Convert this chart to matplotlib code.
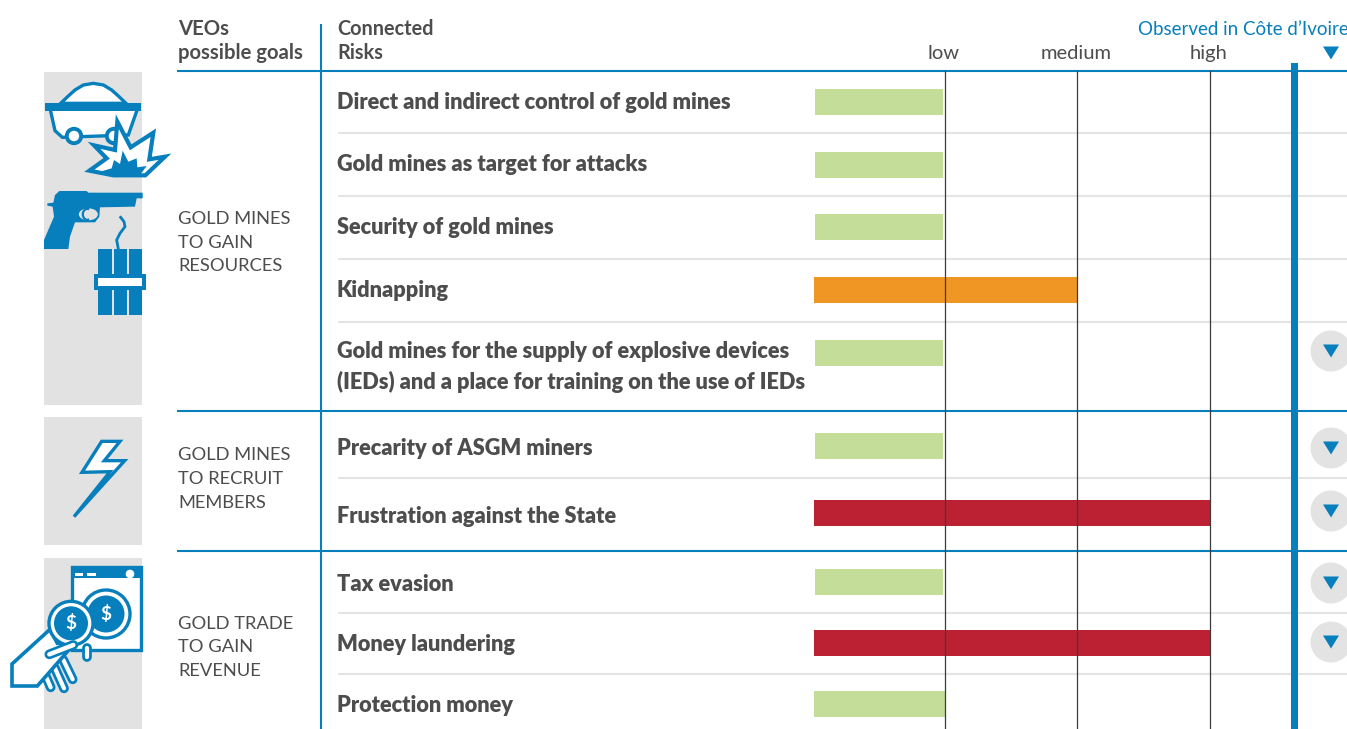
import matplotlib
matplotlib.use("Agg")
import matplotlib.pyplot as plt
from matplotlib.patches import Polygon, Circle, Rectangle, Ellipse, Arc
import numpy as np

risks = ["Direct and indirect control of gold mines", "Gold mines as target for attacks",
         "Security of gold mines", "Kidnapping",
         "Gold mines for the supply of explosive devices\n(IEDs) and a place for training on the use of IEDs",
         "Precarity of ASGM miners", "Frustration against the State", "Tax evasion",
         "Money laundering", "Protection money"]
levels = [1, 1, 1, 2, 1, 1, 3, 1, 3, 1]
observed = [0, 0, 0, 0, 1, 1, 1, 1, 1, 0]
goals = ["GOLD MINES\nTO GAIN\nRESOURCES", "GOLD MINES\nTO RECRUIT\nMEMBERS", "GOLD TRADE\nTO GAIN\nREVENUE"]
tick_labels = ["low", "medium", "high"]

BLUE = "#077fbc"; TXT = "#4d4d4d"; PANEL = "#e2e2e2"; SEP = "#e4e4e4"
LEVEL_COL = {1: "#c4de9a", 2: "#ef9625", 3: "#bb2033"}
FONT = "Lato"
W, H = 1347, 729
row_y = [102, 165, 227, 290, 353, 446, 513, 582, 643, 704]
label_y = [102, 164, 227, 290, 367, 448, 516.5, 584.5, 644.5, 705]
circle_y = {4: 351, 5: 448, 6: 511, 7: 583, 8: 642}
seps = [133, 196, 259, 322, 478, 613, 674]

fig = plt.figure(figsize=(W/100, H/100), dpi=100, facecolor="white")
bg = fig.add_axes([0, 0, 1, 1]); bg.set_xlim(0, W); bg.set_ylim(H, 0); bg.axis("off")

def T(x, y, s, size=15.2, weight="normal", color=TXT, ha="left", va="center", ls=1.2, ax=bg):
    ax.text(x, y, s, fontsize=size, fontweight=weight, color=color, ha=ha, va=va,
            family=FONT, linespacing=ls, zorder=8)

# panels
for y0, y1 in [(72, 405), (417, 545), (558, 729)]:
    bg.add_patch(Rectangle((44, y0), 98, y1-y0, fc=PANEL, ec="none", zorder=1))

# rules
for y in [71, 411, 551]:
    bg.plot([177, W], [y, y], color=BLUE, lw=1.5, zorder=3, solid_capstyle="butt")
for y in seps:
    bg.plot([338, W], [y, y], color=SEP, lw=1.5, zorder=2, solid_capstyle="butt")
bg.plot([321, 321], [24, H], color=BLUE, lw=1.5, zorder=3, solid_capstyle="butt")
bg.add_patch(Rectangle((1290.5, 63), 7, H-63, fc=BLUE, ec="none", zorder=6))

# data axes: bars on a level scale, vertical positions follow the rows
ax = fig.add_axes([814/W, 0, (1210.5-814)/W, 1]); ax.patch.set_alpha(0)
ax.set_xlim(0, 3); ax.set_ylim(H, 0); ax.axis("off")
for i, (y, lv) in enumerate(zip(row_y, levels)):
    if lv == 1 and i < 9:
        ax.barh(y, lv-0.03, left=0.005, height=26, color=LEVEL_COL[lv], zorder=3)
    elif i == 9:
        ax.barh(y, lv-0.005, height=26, color=LEVEL_COL[lv], zorder=3)
    else:
        ax.barh(y, lv, height=26, color=LEVEL_COL[lv], zorder=3)
for i, lab in enumerate(tick_labels):
    ax.plot([i+0.993]*2, [71, H], color="#3c3c3c", lw=0.9, zorder=4, clip_on=False)
for x, lab in zip([943.5, 1076, 1209], tick_labels):
    T(x, 53, lab, ha="center", size=14.5)

# text
T(178, 41, "VEOs\npossible goals", weight="bold", size=14.6)
T(337, 41, "Connected\nRisks", weight="bold", size=14.3)
T(1138, 29, "Observed in Côte d’Ivoire", color=BLUE, size=13.5)
for y, s in zip([242.5, 479, 647.5], goals):
    T(178, y, s, size=13.2, ls=1.6)
for y, s in zip(label_y, risks):
    T(337, y, s, weight="heavy", size=15.7, ls=1.47 if "\n" in s else 1.2)

def tri(x, y, s=8, h=13):
    bg.add_patch(Polygon([(x-s, y-h/2), (x+s, y-h/2), (x, y+h/2)], fc=BLUE, ec="none", zorder=7))
tri(1331, 53)
for i, o in enumerate(observed):
    if o:
        y = circle_y[i]
        bg.add_patch(Circle((1331, y), 20.5, fc="#e3e3e3", ec="none", zorder=5))
        tri(1331, y)

# ---- icons (pixel drawings)
def z1(p): return [(x/3, 60+y/3) for x, y in p]
def z2(p): return [(x/3, 410+y/3) for x, y in p]
def poly(p, fc="white", ec=BLUE, lw=2.6, z=4):
    bg.add_patch(Polygon(p, closed=True, fc=fc, ec=ec, lw=lw, zorder=z, joinstyle="miter"))

poly(z1([(182,130),(205,108),(225,90),(250,75),(280,70),(310,75),(335,90),(355,108),(378,130)]), lw=2.4)
poly(z1([(150,145),(165,212),(187,232),(385,225),(413,145)]), lw=2.4)
bg.add_patch(Rectangle((45, 103), 96, 8, fc=BLUE, ec="none", zorder=4))
for cx in (222, 342):
    bg.add_patch(Circle((cx/3, 60+228/3), 7.2, fc="white", ec=BLUE, lw=2.8, zorder=4))
poly(z1([(352,185),(392,262),(460,218),(448,298),(495,290),(436,346),(340,346),(268,332),(320,295),(282,256),(345,270)]), lw=3, z=5)
poly(z1([(290,338),(335,325),(342,300),(360,312),(368,272),(385,305),(410,295),(412,322),(440,318),(420,345),(340,347)]), fc=BLUE, ec="none", z=5)

poly(z1([(165,405),(178,393),(260,393),(265,398),(428,398),(428,415),(410,415),(405,440),(300,442),(298,470),(285,487),(225,487),(210,530),(205,567),(132,567),(132,540),(162,470),(158,440),(142,437),(142,430),(160,428)]), fc=BLUE, ec="none", z=3)
bg.add_patch(Ellipse((265/3, 60+463/3), 19, 12, fc=PANEL, ec="none", zorder=4))
bg.add_patch(Arc((262/3, 60+463/3), 9, 11, theta1=70, theta2=290, color=BLUE, lw=1.6, zorder=4))

for x0, x1 in [(294,335),(342,380),(387,425)]:
    bg.add_patch(Rectangle((x0/3, 60+567/3), (x1-x0)/3, 198/3, fc=BLUE, ec="none", zorder=3))
bg.add_patch(Rectangle((283/3, 60+643/3), 154/3, 47/3, fc=BLUE, ec="none", zorder=4))
bg.add_patch(Rectangle((294/3, 60+654/3), 131/3, 24/3, fc="white", ec="none", zorder=4))
fx = np.array([355, 350, 360, 375, 372, 362]); fy = np.array([567, 540, 520, 500, 485, 472])
bg.plot(fx/3, 60+fy/3, color=BLUE, lw=2, zorder=3)

poly(z2([(305,94),(360,94),(313,152),(374,152),(222,320),(330,185),(246,187)]), lw=2.4)

bg.add_patch(Rectangle((72, 410+470/3), 69, 250/3, fc="white", ec=BLUE, lw=2.4, zorder=3))
bg.add_patch(Rectangle((71, 410+468/3), 71, 12, fc=BLUE, ec="none", zorder=3))
for a, b in [(225,250),(262,288)]:
    bg.add_patch(Rectangle((a/3, 410+490/3), (b-a)/3, 2.5, fc="white", ec="none", zorder=4))
bg.add_patch(Circle((390/3, 410+492/3), 4.3, fc="white", ec="none", zorder=4))

def coin(cx, cy, r1, r2, z):
    c = (cx/3, 410+cy/3)
    bg.add_patch(Circle(c, r1, fc="white", ec=BLUE, lw=2.4, zorder=z))
    bg.add_patch(Circle(c, r2, fc=BLUE, ec="none", zorder=z))
    bg.text(c[0], c[1], "$", color="white", fontsize=13.5, fontweight="bold", family=FONT,
            ha="center", va="center", zorder=z)
coin(318, 612, 24, 18.5, 4)

for pts in [[(262,715),(262,742)], [(190,750),(218,808)], [(165,775),(192,835)], [(138,800),(152,832)]]:
    xs = [p[0]/3 for p in pts]; ys = [410+p[1]/3 for p in pts]
    bg.plot(xs, ys, color=BLUE, lw=7, solid_capstyle="round", zorder=4.4)
    bg.plot(xs, ys, color="white", lw=3, solid_capstyle="round", zorder=4.4)
poly(z2([(36,762),(150,658),(172,700),(222,702),(112,828),(36,828)]), z=4.6)
coin(213, 640, 22, 17, 5)
xs = [148/3, 220/3]; ys = [410+733/3, 410+705/3]
bg.plot(xs, ys, color=BLUE, lw=7, solid_capstyle="round", zorder=6)
bg.plot(xs, ys, color="white", lw=3.2, solid_capstyle="round", zorder=6)

fig.savefig("out.png", dpi=100, facecolor="white")
